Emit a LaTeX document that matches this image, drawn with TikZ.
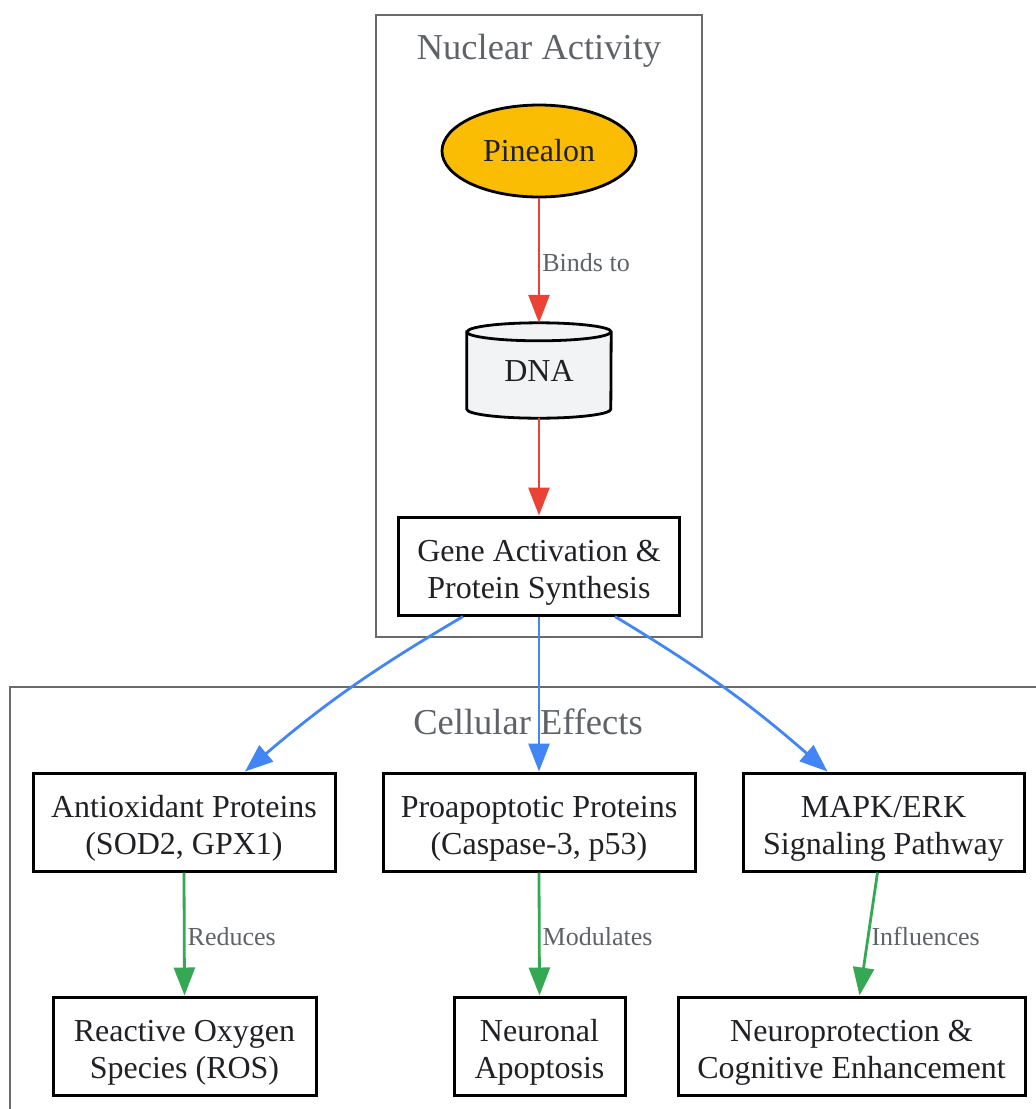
\documentclass[tikz,border=0pt]{standalone}
\usepackage{fontspec}
\setmainfont{Liberation Serif}
\usetikzlibrary{arrows.meta}
\usetikzlibrary{shapes}

\definecolor{pineyellow}{HTML}{FBBC04}
\definecolor{dnagray}{HTML}{F1F3F4}
\definecolor{labelgray}{HTML}{5F6368}
\definecolor{framegray}{HTML}{6A6A6A}
\definecolor{textdark}{HTML}{202124}
\definecolor{edgered}{HTML}{EA4335}
\definecolor{edgeblue}{HTML}{4285F4}
\definecolor{edgegreen}{HTML}{34A853}

\newcommand{\nodefont}{\fontsize{32}{37}\selectfont}
\newcommand{\labelfont}{\fontsize{26}{30}\selectfont}
\newcommand{\clusterfont}{\fontsize{36.5}{42}\selectfont}
% taller first line, so two-line labels sit a little lower
\newcommand{\topline}{\rule{0pt}{34pt}}

\tikzset{
        basenode/.style={align=center, inner sep=0pt, text=textdark, font=\nodefont},
        % Peptide node
        node_peptide/.style={basenode, ellipse, draw=black, fill=pineyellow, line width=2.8pt, minimum width=194pt, minimum height=92pt},
        % Storage node (drawn as cylinder afterwards)
        node_store/.style={basenode, rectangle, minimum width=144pt, minimum height=95pt},
        % Process boxes
        node_box/.style={basenode, rectangle, draw=black, line width=3pt, minimum height=98pt},
        % Edge labels
        edge_label/.style={anchor=west, inner sep=0pt, text=labelgray, font=\labelfont},
        % Cluster frames and titles
        cluster/.style={draw=framegray, line width=2.6pt},
        cluster_title/.style={inner sep=0pt, text=labelgray, font=\clusterfont},
        % Edges
        edge_base/.style={line width=2.8pt, -{Triangle[length=28pt, width=21pt]}},
        edge_red/.style={edge_base, draw=edgered},
        edge_blue/.style={edge_base, draw=edgeblue},
        edge_green/.style={edge_base, draw=edgegreen}
}

\begin{document}
\begin{tikzpicture}[x=1pt, y=1pt]
            \path[use as bounding box, clip] (0,0) rectangle (1036,-1109);

            % clusters
            \draw[cluster] (376,-15) rectangle (702,-637);
            \node[cluster_title] (title_nuc) at (539,-48) {\rule{0pt}{30pt}Nuclear Activity};
            \draw[cluster] (10,-687) rectangle (1060,-1130);
            \node[cluster_title] (title_cell) at (528,-722) {Cellular Effects};

            % nuclear activity
            \node[node_peptide] (pinealon) at (539,-151) {Pinealon};
            \node[node_store] (dna) at (539,-370.5) {};
            \filldraw[draw=black, fill=dnagray, line width=2.8pt]
                ([yshift=-9pt]dna.north west) -- ([yshift=9pt]dna.south west)
                arc(180:360:72 and 9) -- ([yshift=-9pt]dna.north east)
                arc(0:180:72 and 9) -- cycle;
            \draw[black, line width=2.8pt] ([yshift=-9pt]dna.north west) arc(180:360:72 and 9);
            \node[basenode] (dna_text) at (dna.center) {DNA};
            \node[node_box, minimum width=281pt] (gene) at (539,-566) {\topline Gene Activation \&\\Protein Synthesis};

            % cellular effects
            \node[node_box, minimum width=302pt] (antiox) at (184,-822) {\topline Antioxidant Proteins\\(SOD2, GPX1)};
            \node[node_box, minimum width=312pt] (proapop) at (539,-822) {\topline Proapoptotic Proteins\\(Caspase-3, p53)};
            \node[node_box, minimum width=281pt] (mapk) at (883.5,-822) {\topline MAPK/ERK\\Signaling Pathway};
            \node[node_box, minimum width=263pt] (ros) at (184.5,-1046) {\topline Reactive Oxygen\\Species (ROS)};
            \node[node_box, minimum width=171pt] (apoptosis) at (539.5,-1046) {\topline Neuronal\\Apoptosis};
            \node[node_box, minimum width=347pt] (neuroprot) at (851.5,-1046) {\topline Neuroprotection \&\\Cognitive Enhancement};

            % edges
            \draw[edge_red] (pinealon) -- node[edge_label, pos=0.52, xshift=2pt] {Binds to} (dna.north);
            \draw[edge_red] (dna.south) -- (gene.north);
            \draw[edge_blue] ([xshift=-76pt]gene.south) to[bend right=5] ([xshift=61pt]antiox.north);
            \draw[edge_blue] (gene.south) -- (proapop.north);
            \draw[edge_blue] ([xshift=76pt]gene.south) to[bend left=5] ([xshift=-56pt]mapk.north);
            \draw[edge_green] (antiox.south) -- node[edge_label, pos=0.52, xshift=2pt] {Reduces} (ros.north);
            \draw[edge_green] (proapop.south) -- node[edge_label, pos=0.52, xshift=2pt] {Modulates} (apoptosis.north);
            \draw[edge_green] ([xshift=-6pt]mapk.south) -- node[edge_label, pos=0.52, xshift=2pt] {Influences} ([xshift=8pt]neuroprot.north);
\end{tikzpicture}
\end{document}
